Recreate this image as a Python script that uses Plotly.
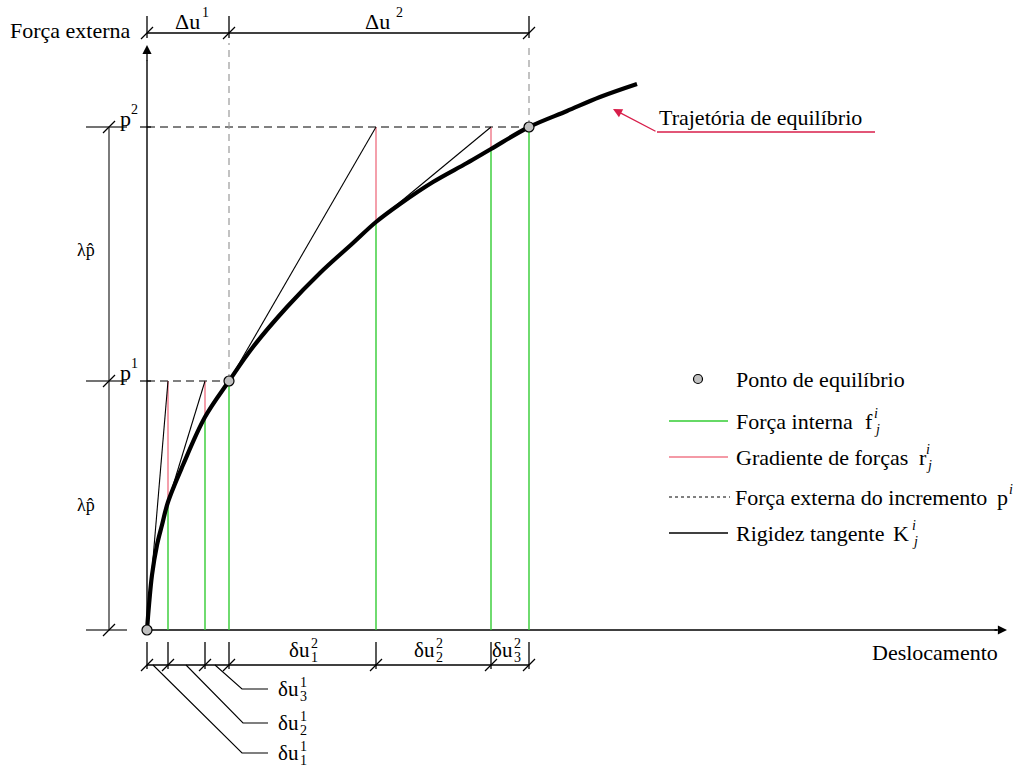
import plotly.graph_objects as go

# ---- data (diagram units: displacement u, force f) ----
curve_u = [0, 2, 5, 10, 15, 21, 36, 58, 82, 106, 140, 173, 206, 229, 253, 286, 320, 344, 382, 420, 453, 490]
curve_f = [0, 25, 55, 85, 105, 128, 165, 213, 249, 283, 323, 357, 387, 408, 426, 448, 467, 481, 503, 519, 533, 546]

p_levels = [249, 503]                       # p1, p2
eq_u = [0, 82, 382]                          # equilibrium points
eq_f = [0, 249, 503]

iter_u = [21, 58, 82, 229, 344, 382]         # iterate displacements
iter_fint = [128, 213, 249, 408, 481, 503]   # internal force at iterates
iter_target = [249, 249, 249, 503, 503, 503] # external force of increment

tan_u0 = [0, 21, 82, 229]
tan_f0 = [0, 128, 249, 408]
tan_u1 = [21, 58, 229, 344]
tan_f1 = [249, 249, 503, 503]

GREEN = "#33cc33"
RED = "#f07888"
GRAY = "#9a9a9a"
FONT = "Liberation Serif"

fig = go.Figure()


def seg(xs, ys, color="black", width=1, dash="solid", shape="linear"):
    fig.add_trace(go.Scatter(x=xs, y=ys, mode="lines", hoverinfo="skip", showlegend=False,
                             line=dict(color=color, width=width, dash=dash, shape=shape)))


def txt(x, y, s, size=22, xanchor="center", yanchor="middle", color="black"):
    fig.add_annotation(x=x, y=y, text=s, showarrow=False, xanchor=xanchor, yanchor=yanchor,
                       font=dict(family=FONT, size=size, color=color), borderpad=0)


def supsub(x, y, sup, sub, small=14, dy=7, italic=False):
    if sup:
        txt(x, y + dy, f"<i>{sup}</i>" if italic else sup, size=small, xanchor="left")
    if sub:
        txt(x, y - dy, f"<i>{sub}</i>" if italic else sub, size=small, xanchor="left")


def stacked(x, y, base, sup, sub, size=21, small=14, dy=7):
    txt(x, y, base, size=size, xanchor="right")
    supsub(x - 1, y, sup, sub, small=small, dy=dy)


def arrow(x, y, ax, ay, color="black"):
    fig.add_annotation(x=x, y=y, ax=ax, ay=ay, axref="x", ayref="y", xref="x", yref="y",
                       showarrow=True, arrowhead=2, arrowsize=1.4, arrowwidth=1.3,
                       arrowcolor=color, text="")


# axes
seg([0, 850], [0, 0], width=1.4)
seg([0, 0], [0, 570], width=1.4)
arrow(860, 0, 846, 0)
arrow(0, 585, 0, 568)

# dashed guide lines
seg([0, eq_u[2]], [p_levels[1]] * 2, dash="8px,5px")
seg([0, eq_u[1]], [p_levels[0]] * 2, dash="8px,5px")
seg([-7, 4], [p_levels[1]] * 2, width=1.2)
seg([-7, 4], [p_levels[0]] * 2, width=1.2)
seg([eq_u[1]] * 2, [p_levels[0], 587], color=GRAY, dash="7px,5px", width=1.2)
seg([eq_u[2]] * 2, [p_levels[1], 587], color=GRAY, dash="7px,5px", width=1.2)

# internal force (green) and gradient (red) lines
for u, fi, ft in zip(iter_u, iter_fint, iter_target):
    seg([u, u], [0, fi], color=GREEN, width=1.4)
    if ft > fi:
        seg([u, u], [fi, ft], color=RED, width=1.4)

# tangent stiffness lines
for a, b, c, d in zip(tan_u0, tan_f0, tan_u1, tan_f1):
    seg([a, c], [b, d], width=1.1)

# equilibrium path
seg(curve_u, curve_f, width=4.2, shape="spline")

# equilibrium points
fig.add_trace(go.Scatter(x=eq_u, y=eq_f, mode="markers", hoverinfo="skip", showlegend=False,
                         marker=dict(size=10, color="#c0c0c0", line=dict(color="black", width=1.2))))

# ---- dimension lines ----
slash_x, slash_y = [], []


def slash(u, f):
    slash_x.extend([u - 6, u + 6, None])
    slash_y.extend([f - 6, f + 6, None])


# left (force increments)
seg([-38, -38], [0, p_levels[1]], color="#444", width=1.4)
for f in [0] + p_levels:
    seg([-61, -20], [f, f], color="#444", width=1.4)
    slash(-38, f)
txt(-22, 512, "p", size=22)
txt(-17, 521, "2", size=14, xanchor="left")
txt(-22, 258, "p", size=22)
txt(-17, 267, "1", size=14, xanchor="left")
txt(-61, 380, "λp̂", size=18)
txt(-61, 125, "λp̂", size=18)

# top (Δu)
seg([0, eq_u[2]], [597, 597], width=1.3)
for u in [0, eq_u[1], eq_u[2]]:
    seg([u, u], [592, 614], width=1.3)
    slash(u, 597)
txt(40, 609, "Δu", size=22, xanchor="center")
txt(54, 618, "1", size=14, xanchor="left")
txt(230, 609, "Δu", size=22, xanchor="center")
txt(248, 618, "2", size=14, xanchor="left")

# bottom (δu)
bot_ticks = [0] + iter_u
seg([0, eq_u[2]], [-35, -35], width=1.3)
for u in bot_ticks:
    seg([u, u], [-12, -39], width=1.3)
    slash(u, -35)
fig.add_trace(go.Scatter(x=slash_x, y=slash_y, mode="lines", hoverinfo="skip", showlegend=False,
                         line=dict(color="black", width=1.3)))

stacked(164, -20, "δu", "2", "1")
stacked(289, -20, "δu", "2", "2")
stacked(367, -20, "δu", "2", "3")

# leaders for first-increment iterations
lead = [(6, 95, -123, "1"), (39, 96, -93, "2"), (68, 95, -59, "3")]
for x0, x1, y1, k in lead:
    seg([x0, x1, 121], [-35, y1, y1], width=1.1)
    stacked(153, y1, "δu", "1", k)

# axis titles
txt(-77, 600, "Força externa", size=22)
txt(788, -22, "Deslocamento", size=22)

# trajectory label with arrow
seg([510, 728], [498, 498], color="#d81e4a", width=1.3)
arrow(466, 521, 510, 498, color="#d81e4a")
txt(511, 513, "Trajetória de equilíbrio", size=22, xanchor="left")

# ---- custom legend ----
fig.add_trace(go.Scatter(x=[551], y=[251], mode="markers", hoverinfo="skip", showlegend=False,
                         marker=dict(size=9, color="#c0c0c0", line=dict(color="black", width=1.2))))
txt(588, 251, "Ponto de equilíbrio", size=22, xanchor="left")

seg([522, 581], [209, 209], color=GREEN, width=1.4)
txt(588, 209, "Força interna", size=22, xanchor="left")
txt(717, 209, "f", size=22, xanchor="left")
supsub(726, 209, "i", "j", small=14, dy=8, italic=True)

seg([522, 581], [173, 173], color=RED, width=1.4)
txt(588, 173, "Gradiente de forças", size=22, xanchor="left")
txt(771, 173, "r", size=22, xanchor="left")
supsub(778, 173, "i", "j", small=14, dy=8, italic=True)

seg([522, 583], [133, 133], width=1, dash="dot")
txt(587, 133, "Força externa do incremento", size=22, xanchor="left")
txt(849, 133, "p", size=22, xanchor="left")
supsub(861, 133, "i", None, small=14, dy=8, italic=True)

seg([522, 581], [97, 97], width=1.4)
txt(588, 97, "Rigidez tangente", size=22, xanchor="left")
txt(745, 97, "K", size=22, xanchor="left")
supsub(764, 97, "i", "j", small=14, dy=8, italic=True)

fig.update_layout(
    width=1015, height=767,
    margin=dict(l=0, r=0, t=0, b=0),
    paper_bgcolor="white", plot_bgcolor="white",
    xaxis=dict(range=[-147, 868], visible=False, fixedrange=True),
    yaxis=dict(range=[-137, 630], visible=False, fixedrange=True),
    showlegend=False,
)

fig.write_html("out.html", config={"displayModeBar": False},
               post_script="document.body.style.margin='0px';")
